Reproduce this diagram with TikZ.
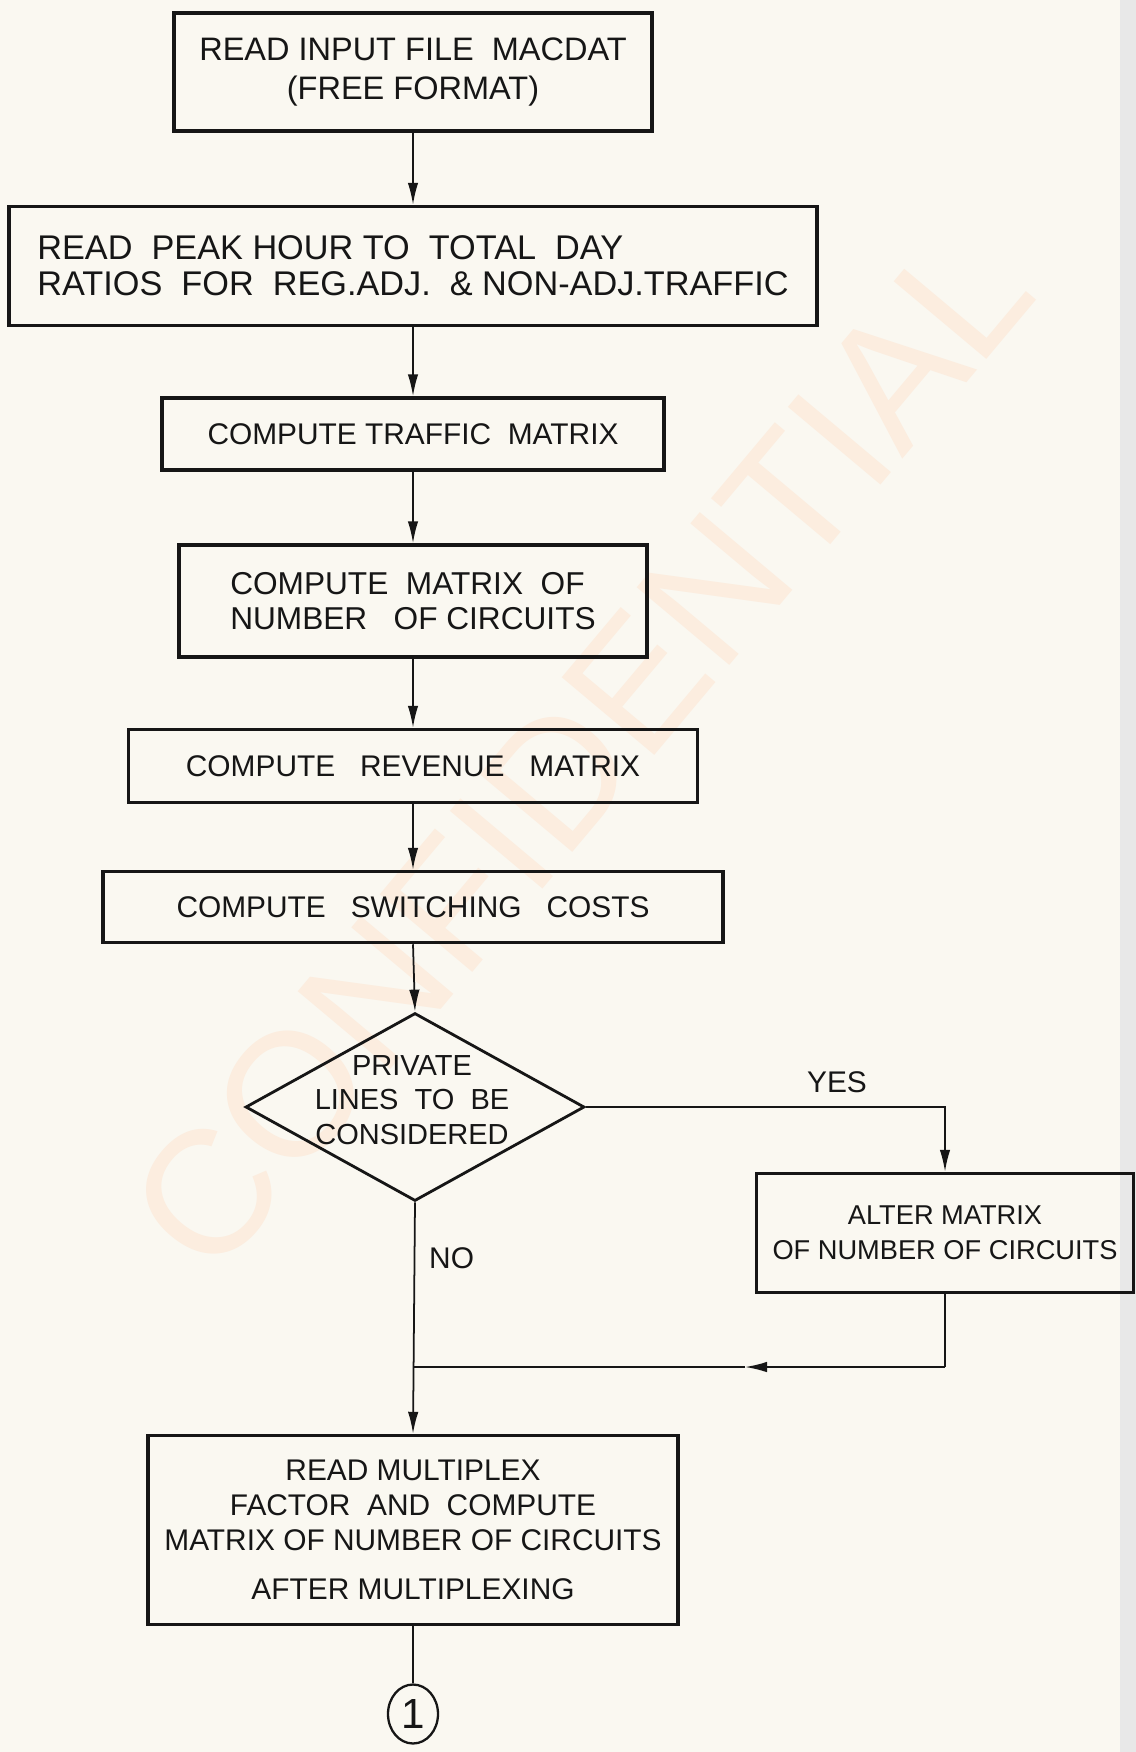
\documentclass[tikz,border=0pt]{standalone}
\usepackage{fontspec}
\setmainfont{Liberation Sans}
\usetikzlibrary{arrows.meta,shapes.geometric}
\definecolor{paper}{RGB}{250,248,241}
\definecolor{ink}{RGB}{22,22,22}
\definecolor{wmark}{RGB}{252,237,223}
\begin{document}
\begin{tikzpicture}[x=0.02cm,y=-0.02cm,
  box/.style={draw=ink, line width=2pt, rectangle, inner sep=2pt, align=center,
              text=ink, font=\fontsize{17}{20}\selectfont},
  dia/.style={draw=ink, line width=1.6pt, diamond, inner sep=0pt},
  conn/.style={draw=ink, line width=1pt},
  arr/.style={conn, -{Latex[length=0.44cm,width=0.21cm]}},
  lbl/.style={text=ink, font=\fontsize{17}{20}\selectfont}]
\fill[paper] (0,0) rectangle (1136,1752);
\fill[gray!18] (1120,0) rectangle (1136,1752);
\useasboundingbox (0,0) rectangle (1136,1752);
% watermark
\node[rotate=50, text=wmark, font=\fontsize{100}{100}\selectfont] (wm) at (580,750) {CONFIDENTIAL};

% boxes
\node[box, minimum width=9.56cm, minimum height=2.36cm, font=\fontsize{18.5}{22}\selectfont] (b1) at (413,72)
  {READ INPUT FILE\ \ MACDAT\\(FREE FORMAT)};
\node[box, minimum width=16.16cm, minimum height=2.38cm, align=left, font=\fontsize{19.5}{20.5}\selectfont] (b2) at (413,266)
  {READ\ \ PEAK HOUR TO\ \ TOTAL\ \ DAY\\RATIOS\ \ FOR\ \ REG.ADJ.\ \ \& NON-ADJ.TRAFFIC};
\node[box, minimum width=10.04cm, minimum height=1.44cm] (b3) at (413,434)
  {COMPUTE TRAFFIC\ \ MATRIX};
\node[box, minimum width=9.36cm, minimum height=2.24cm, align=left, font=\fontsize{18}{20}\selectfont] (b4) at (413,601)
  {COMPUTE\ \ MATRIX\ \ OF\\NUMBER\ \ \ OF CIRCUITS};
\node[box, minimum width=11.38cm, minimum height=1.46cm] (b5) at (413,766)
  {COMPUTE\ \ \ REVENUE\ \ \ MATRIX};
\node[box, minimum width=12.4cm, minimum height=1.42cm] (b6) at (413,907)
  {COMPUTE\ \ \ SWITCHING\ \ \ COSTS};
\node[dia, minimum width=6.78cm, minimum height=3.76cm] (dec) at (415,1107) {};
\node[text=ink, align=center, font=\fontsize{16.5}{19.5}\selectfont] (dect) at (412,1100)
  {PRIVATE\\LINES\ \ TO\ \ BE\\CONSIDERED};
\node[box, minimum width=7.54cm, minimum height=2.38cm, font=\fontsize{15.5}{20}\selectfont] (b7) at (945,1233)
  {ALTER MATRIX\\OF NUMBER OF CIRCUITS};
\node[box, minimum width=10.6cm, minimum height=3.78cm] (b8) at (413,1530)
  {READ MULTIPLEX\\FACTOR\ \ AND\ \ COMPUTE\\MATRIX OF NUMBER OF CIRCUITS\\[8pt]AFTER MULTIPLEXING};
\node[draw=ink, line width=1.3pt, ellipse, minimum width=1.0cm, minimum height=1.18cm, inner sep=0pt,
      text=ink, font=\fontsize{24}{24}\selectfont] (c1) at (413,1714) {1};

% labels
\node[lbl] (yes) at (837,1082) {YES};
\node[lbl, anchor=west] (no) at (423,1258) {NO};

% connectors
\draw[arr] (b1.south) -- (b2.north);
\draw[arr] (b2.south) -- (b3.north);
\draw[arr] (b3.south) -- (b4.north);
\draw[arr] (b4.south) -- (b5.north);
\draw[arr] (b5.south) -- (b6.north);
\draw[arr] (b6.south) -- (dec.north);
\draw[arr] (dec.east) -| (b7.north);
\coordinate (mr) at (945,1367);
\coordinate (mm) at (745,1367);
\coordinate (ml) at (413,1367);
\draw[conn] (b7.south) -- (mr);
\draw[arr] (mr) -- (mm);
\draw[conn] (mm) -- (ml);
\draw[arr] (dec.south) -- (b8.north);
\draw[conn] (b8.south) -- (c1.north);
\end{tikzpicture}
\end{document}
